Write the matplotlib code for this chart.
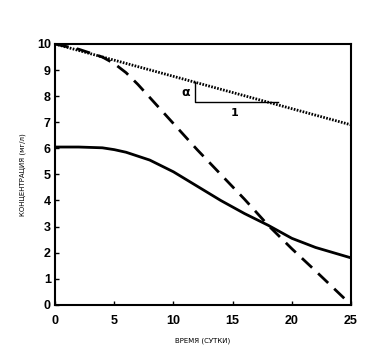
import numpy as np
import matplotlib.pyplot as plt

# данные
t_dash = [0, 2, 4, 5, 6, 7, 8, 9, 10, 12, 14, 16, 18, 20, 22, 25]
c_dash = [10, 9.8, 9.5, 9.25, 8.9, 8.45, 7.95, 7.45, 6.95, 5.95, 5.0, 4.05, 3.05, 2.15, 1.3, 0]

t_solid = [0, 2, 4, 5, 6, 7, 8, 10, 12, 14, 16, 18, 20, 22, 25]
c_solid = [6.05, 6.05, 6.02, 5.95, 5.85, 5.7, 5.55, 5.1, 4.55, 4.0, 3.5, 3.05, 2.55, 2.2, 1.8]

t_dot = [0, 25]
c_dot = [10, 6.9]

# треугольник наклона
tri_t = [11.8, 11.8, 18.8]
tri_c = [8.54, 7.78, 7.78]

fig = plt.figure(figsize=(3.82, 3.52), dpi=100)
ax = fig.add_axes([0.144, 0.134, 0.775, 0.741])

ax.plot(t_dot, c_dot, color='black', lw=2, linestyle=(0, (0.6, 0.5)))
ax.plot(t_dash, c_dash, color='black', lw=2, linestyle=(0, (5, 3)))
ax.plot(t_solid, c_solid, color='black', lw=2)
ax.plot(tri_t, tri_c, color='black', lw=1)

ax.text(11.4, 8.15, 'α', fontsize=9, fontweight='bold', ha='right', va='center')
ax.text(15.2, 7.55, '1', fontsize=8, fontweight='bold', ha='center', va='top')

ax.set_xlim(0, 25)
ax.set_ylim(0, 10)
ax.set_xticks(np.arange(0, 26, 5))
ax.set_yticks(np.arange(0, 11, 1))
ax.tick_params(direction='in', length=3, width=1, labelsize=9, pad=3)
ax.tick_params(axis='x', pad=7)
for lab in ax.get_xticklabels() + ax.get_yticklabels():
    lab.set_fontweight('bold')
    lab.set_family('Liberation Sans')
for s in ax.spines.values():
    s.set_linewidth(1.5)

ax.set_xlabel('ВРЕМЯ (СУТКИ)', fontsize=5, labelpad=8)
ax.set_ylabel('КОНЦЕНТРАЦИЯ (мг/л)', fontsize=5, labelpad=8)

fig.savefig('out.png', dpi=100)
